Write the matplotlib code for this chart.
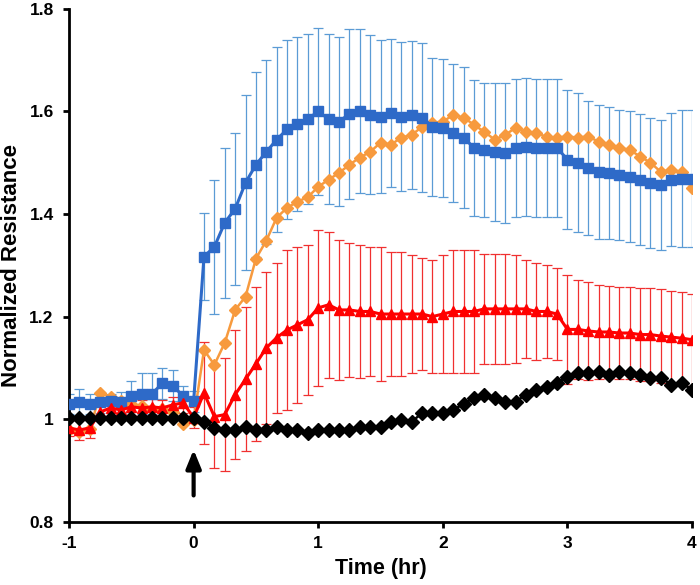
import numpy as np
import matplotlib
matplotlib.use("Agg")
import matplotlib.pyplot as plt

plt.rcParams['font.family'] = ['Liberation Sans', 'DejaVu Sans']

# time in hours, one reading every 5 minutes from -1 h to 4 h
time_hr = np.linspace(-1, 4, 61)

blue = [1.030, 1.033, 1.030, 1.033, 1.035, 1.033, 1.045, 1.050, 1.050, 1.070, 1.065, 1.045,
        1.035, 1.317, 1.336, 1.383, 1.410, 1.461, 1.496, 1.521, 1.545, 1.565, 1.575, 1.585,
        1.600, 1.585, 1.580, 1.595, 1.600, 1.593, 1.590, 1.597, 1.590, 1.593, 1.588, 1.570,
        1.568, 1.558, 1.549, 1.529, 1.525, 1.521, 1.519, 1.529, 1.531, 1.529, 1.529, 1.529,
        1.506, 1.500, 1.490, 1.482, 1.480, 1.476, 1.473, 1.467, 1.461, 1.457, 1.467, 1.469,
        1.469]
blue_err = [0.020, 0.025, 0.020, 0.020, 0.015, 0.020, 0.030, 0.040, 0.040, 0.030, 0.030, 0.020,
            0.020, 0.084, 0.130, 0.146, 0.148, 0.170, 0.180, 0.180, 0.180, 0.175, 0.170, 0.165,
            0.163, 0.165, 0.165, 0.165, 0.160, 0.155, 0.150, 0.145, 0.145, 0.145, 0.145, 0.135,
            0.135, 0.135, 0.137, 0.133, 0.130, 0.135, 0.136, 0.134, 0.134, 0.134, 0.134, 0.134,
            0.136, 0.136, 0.131, 0.130, 0.128, 0.126, 0.128, 0.128, 0.127, 0.127, 0.130, 0.133,
            0.133]

orange = [0.978, 0.975, 0.980, 1.051, 1.044, 1.035, 1.030, 1.025, 1.020, 1.020, 1.015, 0.990,
          0.998, 1.135, 1.106, 1.149, 1.213, 1.239, 1.313, 1.348, 1.393, 1.412, 1.424, 1.433,
          1.453, 1.467, 1.480, 1.496, 1.510, 1.521, 1.539, 1.535, 1.549, 1.554, 1.570, 1.578,
          1.580, 1.593, 1.588, 1.574, 1.560, 1.545, 1.554, 1.568, 1.560, 1.558, 1.550, 1.549,
          1.551, 1.549, 1.551, 1.541, 1.535, 1.529, 1.525, 1.512, 1.500, 1.482, 1.486, 1.482,
          1.450]

red = [0.983, 0.979, 0.983, 1.014, 1.022, 1.018, 1.024, 1.022, 1.024, 1.022, 1.028, 1.032,
       1.003, 1.051, 1.005, 1.009, 1.048, 1.078, 1.108, 1.139, 1.159, 1.174, 1.184, 1.194,
       1.217, 1.223, 1.213, 1.213, 1.210, 1.210, 1.205, 1.205, 1.205, 1.205, 1.205, 1.200,
       1.205, 1.210, 1.210, 1.210, 1.215, 1.215, 1.215, 1.215, 1.215, 1.210, 1.210, 1.205,
       1.175, 1.175, 1.172, 1.170, 1.170, 1.168, 1.168, 1.165, 1.165, 1.162, 1.160, 1.158,
       1.155]
red_err = [0.015, 0.020, 0.020, 0.015, 0.015, 0.015, 0.015, 0.015, 0.015, 0.015, 0.015, 0.020,
           0.020, 0.100, 0.100, 0.110, 0.125, 0.140, 0.150, 0.148, 0.146, 0.156, 0.152, 0.146,
           0.152, 0.142, 0.137, 0.130, 0.130, 0.126, 0.130, 0.120, 0.120, 0.115, 0.110, 0.110,
           0.115, 0.120, 0.120, 0.120, 0.107, 0.107, 0.107, 0.105, 0.095, 0.095, 0.090, 0.090,
           0.106, 0.097, 0.095, 0.092, 0.090, 0.090, 0.090, 0.090, 0.090, 0.092, 0.090, 0.090,
           0.090]

black = [1.003, 1.003, 1.003, 1.003, 1.003, 1.003, 1.003, 1.003, 1.003, 1.003, 1.003, 1.003,
         1.003, 0.995, 0.983, 0.979, 0.979, 0.985, 0.979, 0.979, 0.985, 0.979, 0.979, 0.973,
         0.979, 0.979, 0.979, 0.979, 0.985, 0.985, 0.985, 0.995, 0.999, 0.995, 1.012, 1.012,
         1.012, 1.018, 1.030, 1.042, 1.048, 1.042, 1.034, 1.034, 1.048, 1.057, 1.063, 1.071,
         1.083, 1.090, 1.090, 1.092, 1.087, 1.092, 1.090, 1.087, 1.081, 1.081, 1.067, 1.071,
         1.057]

xticks = [-1, 0, 1, 2, 3, 4]
yticks = [0.8, 1.0, 1.2, 1.4, 1.6, 1.8]
ytick_labels = ["0.8", "1", "1.2", "1.4", "1.6", "1.8"]

fig = plt.figure(figsize=(7, 5.85), dpi=100)
ax = fig.add_axes([0.0986, 0.108, 0.890, 0.877])

# error bars
ax.errorbar(time_hr, blue, yerr=blue_err, fmt='none', ecolor='#5B9BD5', elinewidth=0.9,
            capsize=3.5, capthick=0.9, zorder=1)
ax.errorbar(time_hr, red, yerr=red_err, fmt='none', ecolor='#F03030', elinewidth=0.9,
            capsize=3.5, capthick=0.9, zorder=1)

# series
ax.plot(time_hr, orange, color='#F79A3E', lw=1.8, marker='D', ms=6.5, mec='#F79A3E', zorder=2)
ax.plot(time_hr, blue, color='#2E6AC8', lw=2.2, marker='s', ms=7, mec='#2E6AC8', zorder=3)
ax.plot(time_hr, red, color='#FF0000', lw=2.2, marker='^', ms=7.5, mec='#FF0000', zorder=4)
ax.plot(time_hr, black, color='black', lw=1.8, marker='D', ms=7, zorder=5)

# arrow at time zero
ax.annotate('', xy=(0, 0.946), xytext=(0, 0.846),
            arrowprops=dict(arrowstyle='-|>,head_width=0.45,head_length=1.1', color='black', lw=3))

ax.set_xlim(-1, 4)
ax.set_ylim(0.8, 1.8)
ax.set_xticks(xticks)
ax.set_xticklabels([str(t) for t in xticks])
ax.set_yticks(yticks)
ax.set_yticklabels(ytick_labels)

for s in ['top', 'right']:
    ax.spines[s].set_visible(False)
for s in ['left', 'bottom']:
    ax.spines[s].set_linewidth(2)
ax.tick_params(direction='out', length=4, width=2, labelsize=12.5)
ax.tick_params(axis='x', pad=6)
ax.tick_params(axis='y', pad=7)
for lab in ax.get_xticklabels() + ax.get_yticklabels():
    lab.set_fontweight('bold')

ax.set_xlabel('Time (hr)', fontsize=15.5, fontweight='bold')
ax.set_ylabel('Normalized Resistance', fontsize=16, fontweight='bold')
ax.yaxis.set_label_coords(-0.076, 0.5)
ax.xaxis.set_label_coords(0.5, -0.070)

fig.savefig('out.png', dpi=100)
